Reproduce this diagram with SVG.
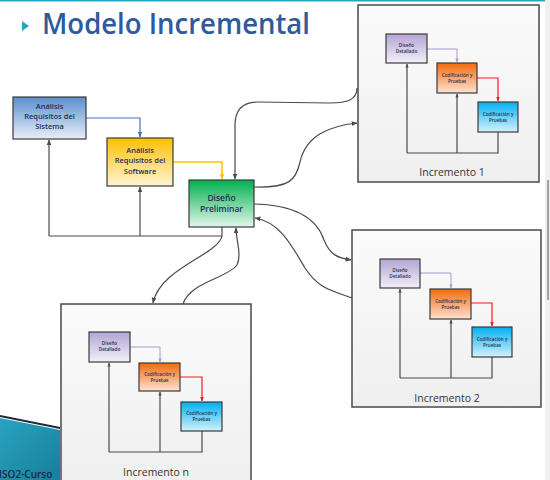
<svg xmlns="http://www.w3.org/2000/svg" width="550" height="480" viewBox="0 0 550 480">
<style>
.t{font-family:"Open Sans","Liberation Sans",sans-serif;fill:#1f2f4f;text-anchor:middle}
.s{font-size:7.5px;font-weight:600}
.m{font-size:8.5px;font-weight:600}
.x{font-size:4.6px;font-weight:600}
.lab{font-family:"Open Sans","Liberation Sans",sans-serif;font-size:10.5px;fill:#333;text-anchor:middle}
.nb{stroke:#3a3a3a;stroke-width:1.2}
.inc{stroke:#4a4a4a;stroke-width:1.5;fill:url(#gInc)}
.c{fill:none;stroke:#4a4a4a;stroke-width:1.2}
.ca{fill:none;stroke:#4a4a4a;stroke-width:1.2;marker-end:url(#ah)}
</style>
<defs>
<linearGradient id="gBlue" x1="0" y1="0" x2="0" y2="1"><stop offset="0" stop-color="#5a8fcf"/><stop offset="1" stop-color="#e8eff8"/></linearGradient>
<linearGradient id="gYel" x1="0" y1="0" x2="0" y2="1"><stop offset="0" stop-color="#ffc000"/><stop offset="1" stop-color="#fff4d6"/></linearGradient>
<linearGradient id="gGrn" x1="0" y1="0" x2="0" y2="1"><stop offset="0" stop-color="#00b050"/><stop offset="1" stop-color="#e4f6eb"/></linearGradient>
<linearGradient id="gPur" x1="0" y1="0" x2="0" y2="1"><stop offset="0" stop-color="#b3a5d4"/><stop offset="1" stop-color="#f2eff8"/></linearGradient>
<linearGradient id="gOra" x1="0" y1="0" x2="0" y2="1"><stop offset="0" stop-color="#f26a0c"/><stop offset="1" stop-color="#fde3d2"/></linearGradient>
<linearGradient id="gCy" x1="0" y1="0" x2="0" y2="1"><stop offset="0" stop-color="#00b0f0"/><stop offset="1" stop-color="#d6f1fc"/></linearGradient>
<linearGradient id="gInc" x1="0" y1="0" x2="0" y2="1"><stop offset="0" stop-color="#fbfbfb"/><stop offset="1" stop-color="#efefef"/></linearGradient>
<linearGradient id="gTeal" x1="0" y1="0" x2="1" y2="1"><stop offset="0" stop-color="#2aa3c0"/><stop offset="1" stop-color="#157f9c"/></linearGradient>
<marker id="ah" viewBox="0 0 10 10" refX="9" refY="5" markerWidth="6" markerHeight="6" orient="auto-start-reverse" markerUnits="userSpaceOnUse"><path d="M0,1 L10,5 L0,9 z" fill="#4a4a4a"/></marker>
<marker id="ahB" viewBox="0 0 10 10" refX="9" refY="5" markerWidth="6" markerHeight="6" orient="auto" markerUnits="userSpaceOnUse"><path d="M0,1 L10,5 L0,9 z" fill="#4a6ec4"/></marker>
<marker id="ahY" viewBox="0 0 10 10" refX="9" refY="5" markerWidth="6" markerHeight="6" orient="auto" markerUnits="userSpaceOnUse"><path d="M0,1 L10,5 L0,9 z" fill="#ffc000"/></marker>
<marker id="ahP" viewBox="0 0 10 10" refX="9" refY="5" markerWidth="4" markerHeight="4" orient="auto" markerUnits="userSpaceOnUse"><path d="M0,1 L10,5 L0,9 z" fill="#a898d0"/></marker>
<marker id="ahR" viewBox="0 0 10 10" refX="9" refY="5" markerWidth="4.5" markerHeight="4.5" orient="auto" markerUnits="userSpaceOnUse"><path d="M0,1 L10,5 L0,9 z" fill="#ff1a1a"/></marker>
<marker id="ahS" viewBox="0 0 10 10" refX="9" refY="5" markerWidth="4" markerHeight="4" orient="auto" markerUnits="userSpaceOnUse"><path d="M0,1 L10,5 L0,9 z" fill="#4a4a4a"/></marker>
</defs>
<rect width="550" height="480" fill="#ffffff"/>
<rect x="0" y="0" width="550" height="1.5" fill="#2aa3c0"/>
<rect x="545" y="0" width="5" height="480" fill="#f0f0f0"/>
<line x1="548" y1="180" x2="548" y2="300" stroke="#888" stroke-width="1.5"/>
<g id="slide-corner">
<path d="M0,418 L60,430 L60,480 L0,480 z" fill="url(#gTeal)"/>
<path d="M0,416 L60,428" stroke="#1c2a3a" stroke-width="2" fill="none"/>
<text x="-1" y="478" font-family="'Open Sans','Liberation Sans',sans-serif" font-size="10" font-weight="600" fill="#1c2a4a">ISO2-Curso</text>
</g>
<g id="title">
<path d="M22,21 L29,26 L22,31 z" fill="#2aa3c0"/>
<text x="42" y="34" font-family="'Open Sans','Liberation Sans',sans-serif" font-size="28" font-weight="600" fill="#2f5a9b" textLength="268" lengthAdjust="spacingAndGlyphs">Modelo Incremental</text>
</g>

<g id="connectors">
<path d="M86,118 L140,118 L140,137" fill="none" stroke="#4a6ec4" stroke-width="1.2" marker-end="url(#ahB)"/>
<path d="M173,162 L222,162 L222,179" fill="none" stroke="#ffc000" stroke-width="1.5" marker-end="url(#ahY)"/>
<path class="c" d="M222,227 L222,236 L49,236"/>
<path class="ca" d="M49,236 L49,140"/>
<path class="ca" d="M140,236 L140,187"/>
<path class="ca" d="M357,88 C357,100 347,103 330,103 L258,102 C242,102 235,110 235,125 L235,179"/>
<path class="ca" d="M254,187 C290,188 296,180 300,162 C306,135 330,126 357,123"/>
<path class="ca" d="M254,204 C300,205 318,222 324,240 C330,255 338,258 351,260"/>
<path class="ca" d="M352,298 C330,290 318,288 305,268 C292,246 280,222 255,218"/>
<path class="ca" d="M222,236 C218,255 160,268 153,303"/>
<path class="ca" d="M183,304 C190,282 228,278 237,265 C242,255 236,240 236,228"/>
</g>

<g id="n-sistema">
<rect x="13" y="97" width="73" height="42" fill="url(#gBlue)" class="nb"/>
<text class="t s" x="49.5" y="109">Análisis</text>
<text class="t s" x="49.5" y="119">Requisitos del</text>
<text class="t s" x="49.5" y="129">Sistema</text>
</g>
<g id="n-software">
<rect x="107" y="138" width="66" height="48" fill="url(#gYel)" class="nb"/>
<text class="t s" x="140" y="153">Análisis</text>
<text class="t s" x="140" y="163">Requisitos del</text>
<text class="t s" x="140" y="174">Software</text>
</g>
<g id="n-preliminar">
<rect x="189" y="180" width="65" height="47" fill="url(#gGrn)" class="nb"/>
<text class="t m" x="221.5" y="201">Diseño</text>
<text class="t m" x="221.5" y="212">Preliminar</text>
</g>

<g id="inc1">
<rect x="358" y="5" width="181" height="177" class="inc"/>
<path class="c" d="M498,132 L498,153 L407,153"/>
<path class="c" d="M407,153 L407,64" marker-end="url(#ahS)"/>
<path class="c" d="M457,153 L457,94" marker-end="url(#ahS)"/>
<path d="M427,49 L457,49 L457,62" fill="none" stroke="#a898d0" stroke-width="1" marker-end="url(#ahP)"/>
<path d="M477,78 L498,78 L498,101" fill="none" stroke="#ff1a1a" stroke-width="1.2" marker-end="url(#ahR)"/>
<rect x="386" y="34" width="41" height="29" fill="url(#gPur)" class="nb"/>
<text class="t x" x="406.5" y="47">Diseño</text>
<text class="t x" x="406.5" y="53">Detallado</text>
<rect x="437" y="63" width="40" height="30" fill="url(#gOra)" class="nb"/>
<text class="t x" x="457" y="77">Codificación y</text>
<text class="t x" x="457" y="83">Pruebas</text>
<rect x="478" y="102" width="40" height="30" fill="url(#gCy)" class="nb"/>
<text class="t x" x="498" y="116">Codificación y</text>
<text class="t x" x="498" y="122">Pruebas</text>
<text class="lab" x="452" y="176">Incremento 1</text>
</g>

<g id="inc2">
<rect x="352" y="230" width="189" height="177" class="inc"/>
<path class="c" d="M492,357 L492,378 L400,378"/>
<path class="c" d="M400,378 L400,289" marker-end="url(#ahS)"/>
<path class="c" d="M451,378 L451,320" marker-end="url(#ahS)"/>
<path d="M420,273 L451,273 L451,288" fill="none" stroke="#a898d0" stroke-width="1" marker-end="url(#ahP)"/>
<path d="M471,303 L492,303 L492,326" fill="none" stroke="#ff1a1a" stroke-width="1.2" marker-end="url(#ahR)"/>
<rect x="380" y="259" width="40" height="29" fill="url(#gPur)" class="nb"/>
<text class="t x" x="400" y="272">Diseño</text>
<text class="t x" x="400" y="278">Detallado</text>
<rect x="430" y="289" width="41" height="30" fill="url(#gOra)" class="nb"/>
<text class="t x" x="450.5" y="303">Codificación y</text>
<text class="t x" x="450.5" y="309">Pruebas</text>
<rect x="472" y="327" width="40" height="30" fill="url(#gCy)" class="nb"/>
<text class="t x" x="492" y="341">Codificación y</text>
<text class="t x" x="492" y="347">Pruebas</text>
<text class="lab" x="447" y="402">Incremento 2</text>
</g>

<g id="incn">
<rect x="61" y="304" width="190" height="180" class="inc"/>
<path class="c" d="M202,431 L202,452 L109,452"/>
<path class="c" d="M109,452 L109,363" marker-end="url(#ahS)"/>
<path class="c" d="M160,452 L160,392" marker-end="url(#ahS)"/>
<path d="M130,347 L160,347 L160,362" fill="none" stroke="#a898d0" stroke-width="1" marker-end="url(#ahP)"/>
<path d="M180,377 L202,377 L202,401" fill="none" stroke="#ff1a1a" stroke-width="1.2" marker-end="url(#ahR)"/>
<rect x="89" y="332" width="41" height="30" fill="url(#gPur)" class="nb"/>
<text class="t x" x="109.5" y="345">Diseño</text>
<text class="t x" x="109.5" y="351">Detallado</text>
<rect x="139" y="363" width="41" height="28" fill="url(#gOra)" class="nb"/>
<text class="t x" x="159.5" y="376">Codificación y</text>
<text class="t x" x="159.5" y="382">Pruebas</text>
<rect x="181" y="402" width="41" height="29" fill="url(#gCy)" class="nb"/>
<text class="t x" x="201.5" y="415">Codificación y</text>
<text class="t x" x="201.5" y="421">Pruebas</text>
<text class="lab" x="156" y="476">Incremento n</text>
</g>
</svg>
